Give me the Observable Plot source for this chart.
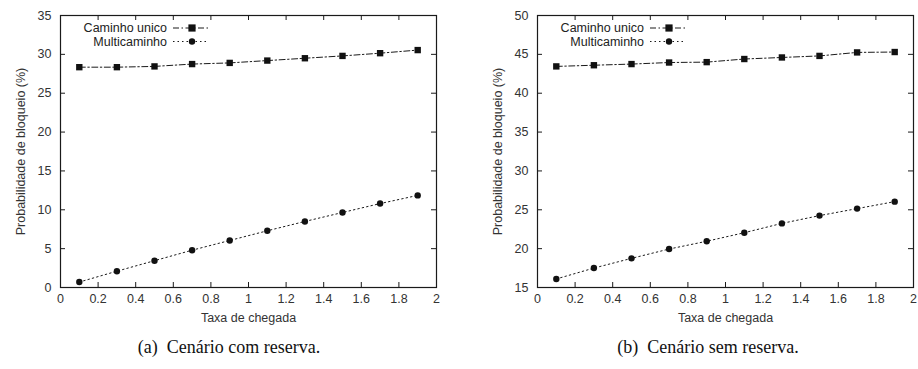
<!DOCTYPE html>
<html>
<head>
<meta charset="utf-8">
<script src="https://cdn.jsdelivr.net/npm/d3@7"></script>
<script src="https://cdn.jsdelivr.net/npm/@observablehq/plot@0.6"></script>
<style>
  html, body { margin: 0; padding: 0; background: #fff; }
  #root { position: relative; width: 918px; height: 369px; overflow: hidden; }
  #charts { display: flex; flex-direction: row; }
  #charts svg { display: block; }
  .caption { position: absolute; top: 337px; font-family: "Liberation Serif", "Times New Roman", serif; font-size: 18px; color: #111; transform: translateX(-50%); white-space: pre; }
</style>
</head>
<body>
<div id="root">
  <div id="charts"></div>
  <div class="caption" style="left:229px">(a)  Cenário com reserva.</div>
  <div class="caption" style="left:708px">(b)  Cenário sem reserva.</div>
</div>
<script>
// ---- Data ----
const taxa = [0.1, 0.3, 0.5, 0.7, 0.9, 1.1, 1.3, 1.5, 1.7, 1.9];
const seriesNames = ["Caminho unico", "Multicaminho"];

const comReservaUnico = [28.35, 28.35, 28.45, 28.75, 28.9, 29.2, 29.5, 29.8, 30.15, 30.55];
const comReservaMulti = [0.7, 2.1, 3.45, 4.8, 6.05, 7.3, 8.5, 9.65, 10.8, 11.85];

const semReservaUnico = [43.45, 43.6, 43.75, 43.95, 44.0, 44.4, 44.6, 44.8, 45.25, 45.3];
const semReservaMulti = [16.1, 17.5, 18.75, 19.95, 20.95, 22.05, 23.25, 24.25, 25.15, 26.05];

const xTicks = [0, 0.2, 0.4, 0.6, 0.8, 1, 1.2, 1.4, 1.6, 1.8, 2];
const yTicksA = [0, 5, 10, 15, 20, 25, 30, 35];
const yTicksB = [15, 20, 25, 30, 35, 40, 45, 50];

const xLabel = "Taxa de chegada";
const yLabel = "Probabilidade de bloqueio (%)";

// ---- Drawing ----
const W = 459, H = 330, MT = 15, MB = 43;
const FONT = "'Liberation Sans', Arial, sans-serif";
const INK = "#1a1a1a";
const DASH_UNICO = "6,2.5,1.5,2.5";
const DASH_MULTI = "1.5,3";

function makeChart({unico, multi, yTicks, marginLeft, marginRight}) {
  const plotW = W - marginLeft - marginRight;
  const plotH = H - MT - MB;
  const dU = taxa.map((x, i) => ({x, y: unico[i]}));
  const dM = taxa.map((x, i) => ({x, y: multi[i]}));
  const svg = Plot.plot({
    width: W, height: H,
    marginLeft, marginRight, marginTop: MT, marginBottom: MB,
    style: {fontFamily: FONT, fontSize: "12.5px", color: INK, background: "white"},
    x: {domain: [0, 2]},
    y: {domain: [yTicks[0], yTicks[yTicks.length - 1]]},
    marks: [
      Plot.axisX({ticks: xTicks, tickSize: 0, tickPadding: 7, tickFormat: d => String(d), label: xLabel, labelAnchor: "center", labelArrow: "none", labelOffset: 34, fill: "#333"}),
      Plot.axisY({ticks: yTicks, tickSize: 0, tickPadding: 9, tickFormat: d => String(d), label: yLabel, labelAnchor: "center", labelArrow: "none", labelOffset: 44, fill: "#333"}),
      // inward ticks on all four sides
      Plot.ruleX(xTicks, {x: d => d, insetTop: plotH - 5, stroke: INK}),
      Plot.ruleX(xTicks, {x: d => d, insetBottom: plotH - 5, stroke: INK}),
      Plot.ruleY(yTicks, {y: d => d, insetRight: plotW - 5, stroke: INK}),
      Plot.ruleY(yTicks, {y: d => d, insetLeft: plotW - 5, stroke: INK}),
      Plot.line(dU, {x: "x", y: "y", stroke: INK, strokeWidth: 1, strokeDasharray: DASH_UNICO}),
      Plot.line(dM, {x: "x", y: "y", stroke: INK, strokeWidth: 1, strokeDasharray: DASH_MULTI}),
      Plot.dot(dU, {x: "x", y: "y", symbol: "square", r: 3.6, fill: "#111", stroke: "none"}),
      Plot.dot(dM, {x: "x", y: "y", symbol: "circle", r: 3.2, fill: "#111", stroke: "none"}),
      Plot.frame({stroke: INK, strokeWidth: 1.2})
    ]
  });
  // legend (top-left inside the frame)
  const g = d3.select(svg).append("g")
    .attr("transform", `translate(${marginLeft},${MT})`)
    .attr("font-family", FONT).attr("font-size", "12.5px").attr("fill", "#222");
  const rows = [
    {name: seriesNames[0], dash: DASH_UNICO, sym: "square"},
    {name: seriesNames[1], dash: DASH_MULTI, sym: "circle"}
  ];
  rows.forEach((r, i) => {
    const y = 13 + i * 13.5;
    g.append("text").attr("x", 107).attr("y", y).attr("dy", "0.35em").attr("text-anchor", "end").text(r.name);
    g.append("line").attr("x1", 113).attr("x2", 149).attr("y1", y).attr("y2", y)
      .attr("stroke", INK).attr("stroke-dasharray", r.dash);
    if (r.sym === "square") {
      g.append("rect").attr("x", 132 - 3.6).attr("y", y - 3.6).attr("width", 7.2).attr("height", 7.2).attr("fill", "#111");
    } else {
      g.append("circle").attr("cx", 132).attr("cy", y).attr("r", 3.2).attr("fill", "#111");
    }
  });
  return svg;
}

const charts = document.getElementById("charts");
charts.appendChild(makeChart({unico: comReservaUnico, multi: comReservaMulti, yTicks: yTicksA, marginLeft: 60, marginRight: 23}));
charts.appendChild(makeChart({unico: semReservaUnico, multi: semReservaMulti, yTicks: yTicksB, marginLeft: 78, marginRight: 5}));
</script>
</body>
</html>
